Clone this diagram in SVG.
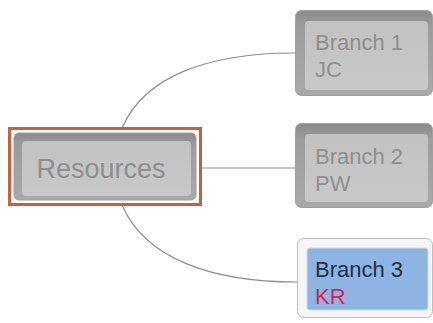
<svg xmlns="http://www.w3.org/2000/svg" width="433" height="323" viewBox="0 0 433 323">
  <defs>
    <linearGradient id="bevel" x1="0" y1="0" x2="0" y2="1">
      <stop offset="0" stop-color="#8a8a8a"/>
      <stop offset="0.18" stop-color="#9c9c9c"/>
      <stop offset="1" stop-color="#a9a9a9"/>
    </linearGradient>
    <linearGradient id="face" x1="0" y1="0" x2="0" y2="1">
      <stop offset="0" stop-color="#c2c2c2"/>
      <stop offset="1" stop-color="#c8c8c8"/>
    </linearGradient>
  </defs>
  <style>
    .conn { fill: none; stroke: #8c8c8c; stroke-width: 1.2; }
    .outer { fill: url(#bevel); stroke: #a0a0a0; stroke-width: 1; }
    .face { fill: url(#face); }
    .txt { font-family: "Liberation Sans", Arial, sans-serif; font-size: 22px; }
    .gtxt { fill: #8e8e8e; }
  </style>
  <rect width="433" height="323" fill="#ffffff"/>
  <g id="connectors">
    <path class="conn" d="M122,128 C145,75 210,53 295,53"/>
    <path class="conn" d="M201,168 L295,168"/>
    <path class="conn" d="M122,205 C145,258 210,282 297,282"/>
  </g>
  <g id="resources">
    <rect x="9.5" y="128.5" width="191" height="76" fill="#ffffff" stroke="#c9603d" stroke-width="3"/>
    <rect x="14" y="133" width="182" height="67" rx="5" class="outer"/>
    <rect x="22" y="141" width="169" height="55" rx="4" class="face"/>
    <text x="101" y="178" text-anchor="middle" class="txt gtxt" style="font-size:27px">Resources</text>
  </g>
  <g id="branch1">
    <rect x="295.5" y="10.5" width="137" height="85" rx="6" class="outer"/>
    <rect x="305" y="21" width="123" height="69" rx="4" class="face"/>
    <text x="315" y="50" class="txt gtxt">Branch 1</text>
    <text x="315" y="77" class="txt gtxt">JC</text>
  </g>
  <g id="branch2">
    <rect x="295.5" y="123.5" width="137" height="84" rx="6" class="outer"/>
    <rect x="305" y="134" width="123" height="68" rx="4" class="face"/>
    <text x="315" y="164" class="txt gtxt">Branch 2</text>
    <text x="315" y="191" class="txt gtxt">PW</text>
  </g>
  <g id="branch3">
    <rect x="297.5" y="238.5" width="135" height="79" rx="6" fill="#f6f6f6" stroke="#bdbdbd" stroke-width="1"/>
    <rect x="307" y="248" width="121" height="62" rx="3" fill="#8db4e2" stroke="#c6d9f0" stroke-width="1"/>
    <text x="315" y="277" class="txt" fill="#1f2f45">Branch 3</text>
    <text x="315" y="304" class="txt" fill="#d81e50">KR</text>
  </g>
</svg>
